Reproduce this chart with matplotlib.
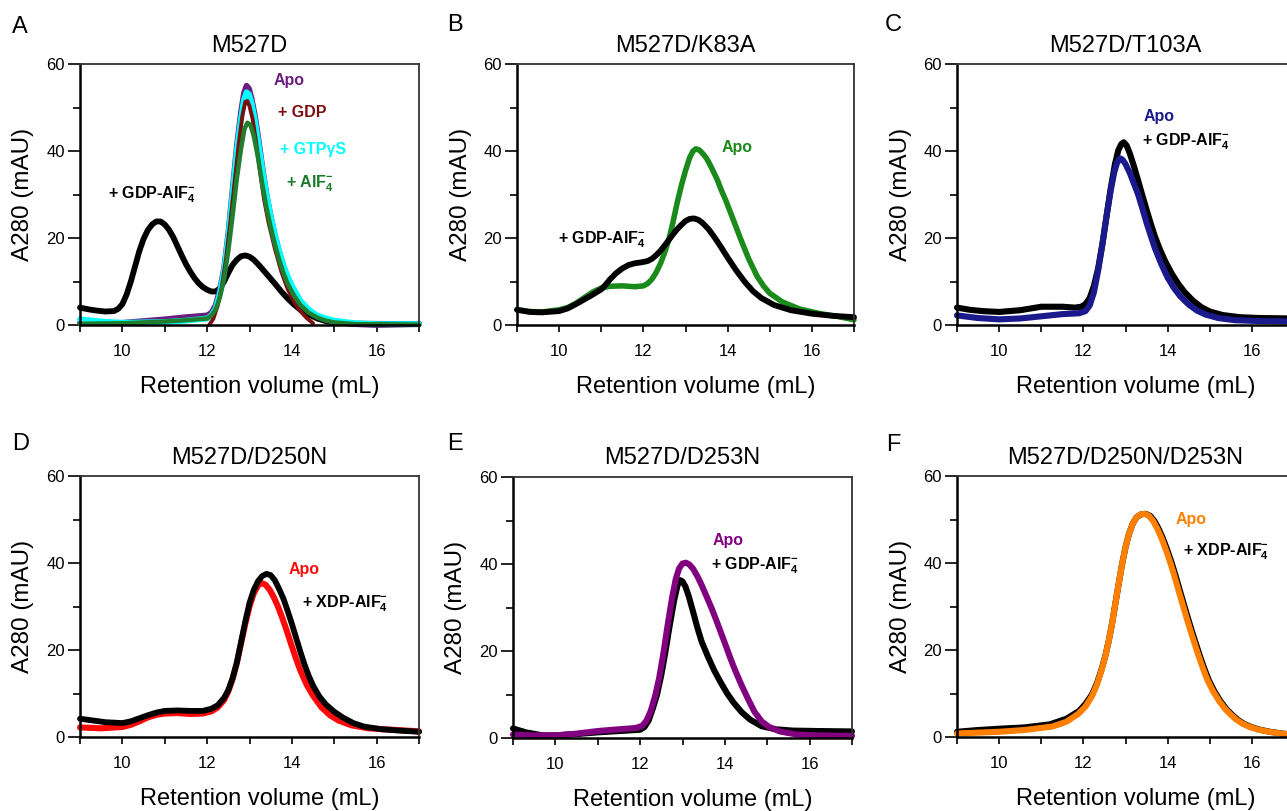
import matplotlib
matplotlib.use('Agg')
import matplotlib.pyplot as plt

plt.rcParams['font.family'] = ['Liberation Sans', 'DejaVu Sans']
plt.rcParams['mathtext.fontset'] = 'custom'
plt.rcParams['mathtext.rm'] = 'Liberation Sans'
plt.rcParams['mathtext.bf'] = 'Liberation Sans:bold'

# panel letters and titles
letters = ['A', 'B', 'C', 'D', 'E', 'F']
titles = ['M527D', 'M527D/K83A', 'M527D/T103A',
          'M527D/D250N', 'M527D/D253N', 'M527D/D250N/D253N']

# ---- A : M527D
a_gdpalf_x = [9.0, 9.2, 9.4, 9.6, 9.8, 9.9, 10.0, 10.1, 10.2, 10.3, 10.4, 10.5, 10.6, 10.7,
              10.8, 10.9, 11.0, 11.1, 11.2, 11.3, 11.4, 11.5, 11.6, 11.7, 11.8, 11.9, 12.0,
              12.1, 12.2, 12.3, 12.4, 12.5, 12.6, 12.7, 12.8, 12.9, 13.0, 13.1, 13.2, 13.3,
              13.45, 13.6, 13.75, 13.9, 14.05, 14.2, 14.4, 14.6, 14.8, 15.0, 15.5, 17.0]
a_gdpalf_y = [4.0, 3.6, 3.3, 3.1, 3.2, 3.7, 4.8, 7.0, 10.0, 13.5, 17.0, 19.8, 21.8, 23.1,
              23.8, 23.8, 23.1, 21.9, 20.2, 18.1, 16.0, 14.0, 12.3, 10.8, 9.6, 8.7, 8.1,
              7.7, 7.7, 8.4, 10.0, 12.0, 13.8, 15.0, 15.8, 16.0, 15.7, 15.0, 14.0, 12.9,
              11.2, 9.5, 7.7, 6.1, 4.7, 3.5, 2.4, 1.5, 0.9, 0.6, 0.3, 0.2]
a_apo_x = [9.0, 10.0, 11.0, 11.5, 12.0, 12.1, 12.2, 12.3, 12.4, 12.5, 12.6, 12.7, 12.8,
           12.87, 12.93, 12.99, 13.05, 13.12, 13.2, 13.3, 13.4, 13.5, 13.6, 13.7, 13.8,
           13.9, 14.0, 14.2, 14.4, 14.6, 14.8, 15.0, 15.5, 16.0, 16.5, 17.0]
a_apo_y = [0.5, 0.5, 1.3, 1.8, 2.2, 2.8, 4.5, 8.0, 13.0, 21.0, 31.0, 41.0, 49.0,
           53.3, 55.0, 54.3, 52.0, 48.5, 43.5, 36.5, 30.0, 25.0, 20.5, 16.8, 13.5,
           10.8, 8.6, 5.2, 3.2, 2.0, 1.3, 0.8, 0.2, 0.0, 0.1, 0.2]
a_gtp_x = [9.0, 9.5, 10.0, 11.0, 11.5, 12.0, 12.1, 12.2, 12.3, 12.4, 12.5, 12.6, 12.7,
           12.8, 12.87, 12.93, 12.99, 13.05, 13.12, 13.2, 13.3, 13.4, 13.5, 13.6, 13.7,
           13.8, 13.9, 14.0, 14.2, 14.4, 14.6, 14.8, 15.0, 15.5, 16.0, 17.0]
a_gtp_y = [1.3, 0.8, 0.5, 0.7, 1.0, 1.5, 2.2, 3.8, 7.2, 12.5, 20.5, 30.0, 40.0,
           47.5, 51.8, 53.5, 53.0, 51.0, 47.5, 42.5, 36.0, 30.0, 25.0, 20.7, 17.0,
           13.8, 11.2, 9.0, 5.6, 3.5, 2.2, 1.5, 1.0, 0.4, 0.2, 0.2]
a_gdp_x = [12.05, 12.15, 12.25, 12.35, 12.45, 12.55, 12.65, 12.75, 12.83, 12.9, 12.95, 13.0,
           13.07, 13.15, 13.25, 13.35, 13.45, 13.6, 13.75, 13.9, 14.05, 14.2, 14.35, 14.5]
a_gdp_y = [0.0, 1.5, 4.5, 9.0, 15.5, 24.0, 33.0, 42.0, 48.0, 51.3, 51.5, 50.3,
           47.5, 42.5, 35.0, 28.5, 23.5, 17.5, 12.3, 8.3, 5.3, 3.2, 1.6, 0.4]
a_alf_x = [9.0, 10.0, 11.0, 11.5, 12.0, 12.1, 12.2, 12.3, 12.4, 12.5, 12.6, 12.7, 12.8,
           12.88, 12.95, 13.02, 13.1, 13.2, 13.3, 13.4, 13.5, 13.6, 13.7, 13.8, 13.9,
           14.05, 14.2, 14.4, 14.6, 14.8, 15.0, 15.5, 17.0]
a_alf_y = [0.3, 0.4, 0.8, 1.1, 1.5, 2.2, 3.6, 6.3, 10.5, 17.0, 25.0, 33.5, 40.5,
           45.0, 46.5, 46.0, 43.5, 38.5, 32.5, 27.0, 22.5, 18.5, 15.0, 12.0, 9.5,
           6.8, 4.6, 2.8, 1.7, 1.0, 0.6, 0.2, 0.1]

# ---- B : M527D/K83A
b_apo_x = [9.0, 9.3, 9.6, 10.0, 10.2, 10.4, 10.6, 10.8, 11.0, 11.2, 11.5, 11.8, 12.0, 12.1,
           12.2, 12.3, 12.4, 12.5, 12.6, 12.7, 12.8, 12.9, 13.0, 13.1, 13.18, 13.25, 13.33,
           13.42, 13.5, 13.6, 13.75, 13.85, 13.95, 14.05, 14.15, 14.3, 14.5, 14.7, 14.85,
           15.0, 15.3, 15.7, 16.2, 16.6, 17.0]
b_apo_y = [3.5, 3.1, 3.0, 3.5, 4.0, 5.0, 6.3, 7.6, 8.5, 8.9, 9.0, 8.8, 9.0, 9.5,
           10.5, 12.0, 14.0, 16.5, 19.5, 23.5, 28.0, 32.0, 35.5, 38.5, 40.0, 40.5, 40.2,
           39.3, 38.3, 36.5, 33.5, 31.0, 28.8, 26.3, 23.8, 20.0, 15.2, 11.2, 9.0,
           7.3, 5.3, 3.7, 2.6, 2.0, 1.2]
b_gdpalf_x = [9.0, 9.3, 9.6, 10.0, 10.2, 10.4, 10.6, 10.8, 11.0, 11.1, 11.2, 11.35, 11.5,
              11.65, 11.8, 11.95, 12.1, 12.2, 12.3, 12.4, 12.5, 12.6, 12.7, 12.8, 12.9,
              13.0, 13.1, 13.2, 13.3, 13.4, 13.55, 13.7, 13.85, 14.0, 14.2, 14.4, 14.6,
              14.8, 15.1, 15.5, 16.0, 16.5, 17.0]
b_gdpalf_y = [3.5, 3.0, 2.9, 3.2, 3.8, 4.8, 5.9, 7.0, 8.2, 9.2, 10.4, 11.9, 13.0,
              13.8, 14.2, 14.4, 14.7, 15.2, 16.0, 17.0, 18.2, 19.5, 20.8, 22.0, 23.0,
              23.9, 24.4, 24.5, 24.2, 23.5, 22.0, 20.0, 17.8, 15.5, 12.6, 10.0, 7.8,
              6.2, 4.6, 3.4, 2.6, 2.1, 1.8]

# ---- C : M527D/T103A
c_gdpalf_x = [9.0, 9.3, 9.6, 10.0, 10.5, 11.0, 11.5, 11.8, 11.95, 12.05, 12.15, 12.25, 12.35,
              12.45, 12.55, 12.65, 12.75, 12.83, 12.9, 12.96, 13.03, 13.1, 13.2, 13.3, 13.4,
              13.5, 13.6, 13.7, 13.82, 13.95, 14.1, 14.25, 14.4, 14.6, 14.8, 15.0, 15.3,
              15.7, 16.2, 17.0]
c_gdpalf_y = [4.0, 3.5, 3.2, 3.0, 3.4, 4.2, 4.2, 4.0, 4.2, 4.8, 6.2, 9.0, 13.0,
              18.5, 25.0, 31.5, 37.0, 40.2, 41.6, 42.0, 41.2, 39.5, 36.5, 33.2, 29.8,
              26.5, 23.3, 20.3, 17.3, 14.5, 11.8, 9.5, 7.6, 5.6, 4.1, 3.1, 2.3,
              1.8, 1.6, 1.5]
c_apo_x = [9.0, 9.5, 10.0, 10.5, 11.0, 11.5, 11.9, 12.05, 12.15, 12.25, 12.35, 12.45, 12.55,
           12.65, 12.73, 12.8, 12.87, 12.93, 13.0, 13.1, 13.2, 13.3, 13.4, 13.5, 13.6, 13.7,
           13.85, 14.0, 14.15, 14.3, 14.5, 14.7, 14.9, 15.2, 15.6, 16.2, 17.0]
c_apo_y = [2.2, 1.6, 1.3, 1.5, 2.0, 2.5, 2.7, 3.2, 4.5, 7.5, 12.5, 18.5, 25.0,
           31.0, 35.0, 37.3, 38.3, 38.0, 37.0, 35.0, 32.5, 30.0, 26.8, 23.5, 20.5, 17.6,
           14.0, 10.9, 8.5, 6.6, 4.7, 3.3, 2.4, 1.6, 1.1, 0.9, 0.8]

# ---- D : M527D/D250N
d_apo_x = [9.0, 9.5, 10.0, 10.2, 10.4, 10.6, 10.8, 11.0, 11.3, 11.6, 11.9, 12.1, 12.25,
           12.4, 12.5, 12.6, 12.7, 12.8, 12.9, 13.0, 13.1, 13.2, 13.28, 13.38, 13.48, 13.58,
           13.68, 13.78, 13.88, 13.98, 14.08, 14.2, 14.35, 14.5, 14.7, 14.9, 15.1,
           15.4, 15.8, 16.3, 17.0]
d_apo_y = [2.2, 2.0, 2.3, 2.8, 3.6, 4.5, 5.1, 5.4, 5.5, 5.3, 5.4, 5.9, 6.8,
           8.5, 10.5, 13.3, 17.0, 21.5, 26.0, 30.0, 33.0, 34.8, 35.4, 35.0, 33.8, 32.0,
           29.8, 27.2, 24.4, 21.4, 18.5, 15.3, 12.0, 9.5, 6.8, 5.0, 3.8,
           2.7, 2.0, 1.7, 1.3]
d_xdpalf_x = [9.0, 9.3, 9.6, 10.0, 10.2, 10.4, 10.6, 10.8, 11.0, 11.3, 11.6, 11.9, 12.1,
              12.25, 12.4, 12.5, 12.6, 12.7, 12.8, 12.9, 13.0, 13.1, 13.2, 13.3, 13.4, 13.5,
              13.6, 13.7, 13.8, 13.9, 14.0, 14.1, 14.2, 14.3, 14.4, 14.5, 14.65, 14.8,
              15.0, 15.2, 15.45, 15.7, 16.1, 16.5, 17.0]
d_xdpalf_y = [4.2, 3.8, 3.4, 3.2, 3.6, 4.3, 5.0, 5.6, 6.0, 6.1, 6.0, 6.0, 6.5,
              7.3, 9.0, 10.8, 13.5, 17.0, 21.8, 26.5, 30.8, 33.8, 35.8, 37.0, 37.5, 37.2,
              36.0, 34.0, 31.8, 29.0, 26.0, 22.8, 19.6, 16.6, 14.0, 11.8, 9.3, 7.5,
              5.8, 4.5, 3.2, 2.4, 1.8, 1.5, 1.2]

# ---- E : M527D/D253N
e_apo_x = [9.0, 9.5, 10.0, 10.5, 11.0, 11.5, 11.9, 12.05, 12.15, 12.25, 12.35, 12.45, 12.55,
           12.65, 12.75, 12.84, 12.92, 13.0, 13.08, 13.16, 13.25, 13.35, 13.45, 13.57, 13.7,
           13.8, 13.9, 14.0, 14.12, 14.24, 14.4, 14.56, 14.7, 14.87, 15.05, 15.3, 15.7,
           16.2, 17.0]
e_apo_y = [0.8, 0.6, 0.6, 1.0, 1.6, 2.0, 2.3, 2.8, 4.0, 6.2, 9.5, 13.8, 19.5,
           26.0, 32.0, 36.5, 39.0, 40.1, 40.3, 39.9, 38.9, 37.2, 35.2, 32.5, 29.5,
           27.0, 24.4, 21.8, 18.6, 15.6, 12.0, 8.7, 6.0, 3.8, 2.5, 1.5, 0.8,
           0.6, 0.5]
e_gdpalf_x = [9.0, 9.3, 9.7, 10.0, 10.5, 11.0, 11.5, 12.0, 12.1, 12.2, 12.3, 12.4, 12.5,
              12.6, 12.7, 12.8, 12.88, 12.94, 13.0, 13.07, 13.15, 13.25, 13.35, 13.45, 13.6,
              13.75, 13.9, 14.05, 14.2, 14.4, 14.6, 14.87, 15.2, 15.6, 16.2, 17.0]
e_gdpalf_y = [2.2, 1.3, 0.6, 0.6, 0.9, 1.3, 1.6, 1.9, 2.5, 4.0, 6.8, 10.0, 14.5,
              20.0, 26.0, 31.5, 35.0, 36.3, 36.0, 34.8, 32.5, 29.0, 25.4, 22.2, 18.7,
              15.5, 12.8, 10.3, 8.2, 5.9, 4.2, 2.7, 2.0, 1.7, 1.6, 1.5]

# ---- F : M527D/D250N/D253N
f_xdpalf_x = [9.0, 9.5, 10.0, 10.6, 11.2, 11.6, 11.9, 12.05, 12.2, 12.32, 12.43, 12.52, 12.6,
              12.68, 12.76, 12.84, 12.92, 13.0, 13.08, 13.17, 13.26, 13.37, 13.48, 13.59,
              13.69, 13.79, 13.89, 13.98, 14.08, 14.18, 14.28, 14.38, 14.48, 14.58, 14.68,
              14.77, 14.88, 14.98, 15.11, 15.25, 15.39, 15.53, 15.66, 15.8, 15.98, 16.18,
              16.43, 16.72, 17.0]
f_xdpalf_y = [1.2, 1.6, 1.9, 2.2, 2.9, 4.2, 6.0, 7.6, 9.7, 12.3, 15.5, 18.6, 22.0,
              26.0, 30.7, 35.3, 39.8, 43.6, 46.6, 49.0, 50.5, 51.2, 51.3, 50.8,
              49.6, 47.8, 45.6, 43.3, 40.5, 37.4, 34.0, 30.7, 27.4, 24.2, 21.2,
              18.5, 15.5, 13.0, 10.5, 8.3, 6.5, 5.1, 4.0, 3.1, 2.3, 1.7,
              1.2, 0.8, 0.5]
f_apo_x = [9.0, 9.5, 10.0, 10.6, 11.26, 11.6, 11.89, 12.05, 12.2, 12.32, 12.43, 12.52, 12.6,
           12.68, 12.76, 12.84, 12.92, 13.0, 13.08, 13.17, 13.26, 13.36, 13.46, 13.56, 13.66,
           13.76, 13.86, 13.95, 14.05, 14.15, 14.25, 14.35, 14.45, 14.55, 14.65, 14.74,
           14.85, 14.95, 15.08, 15.22, 15.36, 15.5, 15.63, 15.77, 15.95, 16.15, 16.4,
           16.7, 17.0]
f_apo_y = [0.8, 1.0, 1.2, 1.6, 2.4, 3.5, 5.4, 7.0, 9.3, 12.0, 15.3, 18.5, 22.0,
           26.0, 30.7, 35.3, 39.8, 43.6, 46.6, 49.0, 50.5, 51.2, 51.3, 50.8, 49.6,
           47.8, 45.6, 43.3, 40.5, 37.4, 34.0, 30.7, 27.4, 24.2, 21.2, 18.5,
           15.5, 13.0, 10.5, 8.3, 6.5, 5.1, 4.0, 3.1, 2.3, 1.7, 1.2,
           0.8, 0.5]

ALF = r'AlF$_{\mathbf{4}}^{\mathbf{-}}$'

# curves per panel, drawn in order (later ones on top)
curves = [
    [(a_gdpalf_x, a_gdpalf_y, 'black', 4.2), (a_apo_x, a_apo_y, '#6b1d7f', 4.2),
     (a_gtp_x, a_gtp_y, '#00ffff', 4.2), (a_gdp_x, a_gdp_y, '#7b0f0f', 2.8),
     (a_alf_x, a_alf_y, '#1f7f2f', 3.2)],
    [(b_apo_x, b_apo_y, '#1a8a1a', 4.0), (b_gdpalf_x, b_gdpalf_y, 'black', 4.2)],
    [(c_gdpalf_x, c_gdpalf_y, 'black', 4.4), (c_apo_x, c_apo_y, '#1a1a8c', 4.4)],
    [(d_apo_x, d_apo_y, '#ff0a0a', 4.4), (d_xdpalf_x, d_xdpalf_y, 'black', 4.2)],
    [(e_gdpalf_x, e_gdpalf_y, 'black', 4.4), (e_apo_x, e_apo_y, '#800080', 4.4)],
    [(f_xdpalf_x, f_xdpalf_y, 'black', 4.4), (f_apo_x, f_apo_y, '#ff8000', 4.4)],
]

# text labels next to curves: (text, x, y, colour)
labels = [
    [('Apo', 13.56, 56.1, '#6b1d7f'), ('+ GDP', 13.68, 48.8, '#7b0f0f'),
     ('+ GTP\u03b3S', 13.73, 40.4, '#00ffff'), ('+ ' + ALF, 13.87, 32.4, '#1a7a2a'),
     ('+ GDP-' + ALF, 9.67, 29.9, 'black')],
    [('Apo', 13.86, 40.7, '#1a8a1a'), ('+ GDP-' + ALF, 9.97, 19.7, 'black')],
    [('Apo', 13.43, 48.0, '#1a1a8c'), ('+ GDP-' + ALF, 13.4, 42.1, 'black')],
    [('Apo', 13.92, 38.6, '#ff0a0a'), ('+ XDP-' + ALF, 14.23, 30.6, 'black')],
    [('Apo', 13.7, 45.5, '#800080'), ('+ GDP-' + ALF, 13.67, 39.6, 'black')],
    [('Apo', 14.18, 50.1, '#ff8000'), ('+ XDP-' + ALF, 14.36, 42.6, 'black')],
]

W, H = 1287, 811
fig = plt.figure(figsize=(W / 100, H / 100), dpi=100)

# axes boxes in pixels: left, top, right, bottom
boxes = [(80, 64, 419, 325), (517, 64, 854, 325), (957, 64, 1294, 325),
         (80, 476, 419, 737), (513, 477, 852, 738), (957, 476, 1294, 737)]
letter_pos = [(12, 27), (447, 25), (885, 25), (12, 444), (447, 444), (886, 445)]

for i in range(6):
    l, t, r, b = boxes[i]
    ax = fig.add_axes([l / W, 1 - b / H, (r - l) / W, (b - t) / H])
    for x, y, c, lw in curves[i]:
        ax.plot(x, y, color=c, lw=lw, solid_capstyle='round', solid_joinstyle='round',
                clip_on=False)
    for txt, x, y, c in labels[i]:
        ax.text(x, y, txt, color=c, fontsize=11.5, fontweight='bold', ha='left', va='center')

    ax.set_xlim(9, 17)
    ax.set_ylim(0, 60)
    ax.set_xticks([10, 12, 14, 16])
    ax.set_xticks([9, 11, 13, 15, 17], minor=True)
    ax.set_yticks([0, 20, 40, 60])
    ax.set_yticks([10, 30, 50], minor=True)
    ax.tick_params(axis='x', which='both', direction='out', length=5, width=1.2, pad=9,
                   labelsize=12)
    ax.tick_params(axis='y', which='major', direction='out', length=9, width=1.2, pad=2,
                   labelsize=12)
    ax.tick_params(axis='y', which='minor', direction='out', length=5, width=1.2)
    for s in ['left', 'bottom']:
        ax.spines[s].set_linewidth(1.8)
        ax.spines[s].set_color('black')
    for s in ['top', 'right']:
        ax.spines[s].set_linewidth(1.3)
        ax.spines[s].set_color('#333333')

    ax.set_title(titles[i], fontsize=17, pad=9)
    ax.set_xlabel('Retention volume (mL)', fontsize=17)
    ax.set_ylabel('A280 (mAU)', fontsize=17.5)
    ax.xaxis.set_label_coords(0.53, -0.195)
    ax.yaxis.set_label_coords(-0.135, 0.5)

    lx, ly = letter_pos[i]
    fig.text(lx / W, 1 - ly / H, letters[i], fontsize=17, ha='left', va='center')

fig.savefig('out.png', dpi=100)
